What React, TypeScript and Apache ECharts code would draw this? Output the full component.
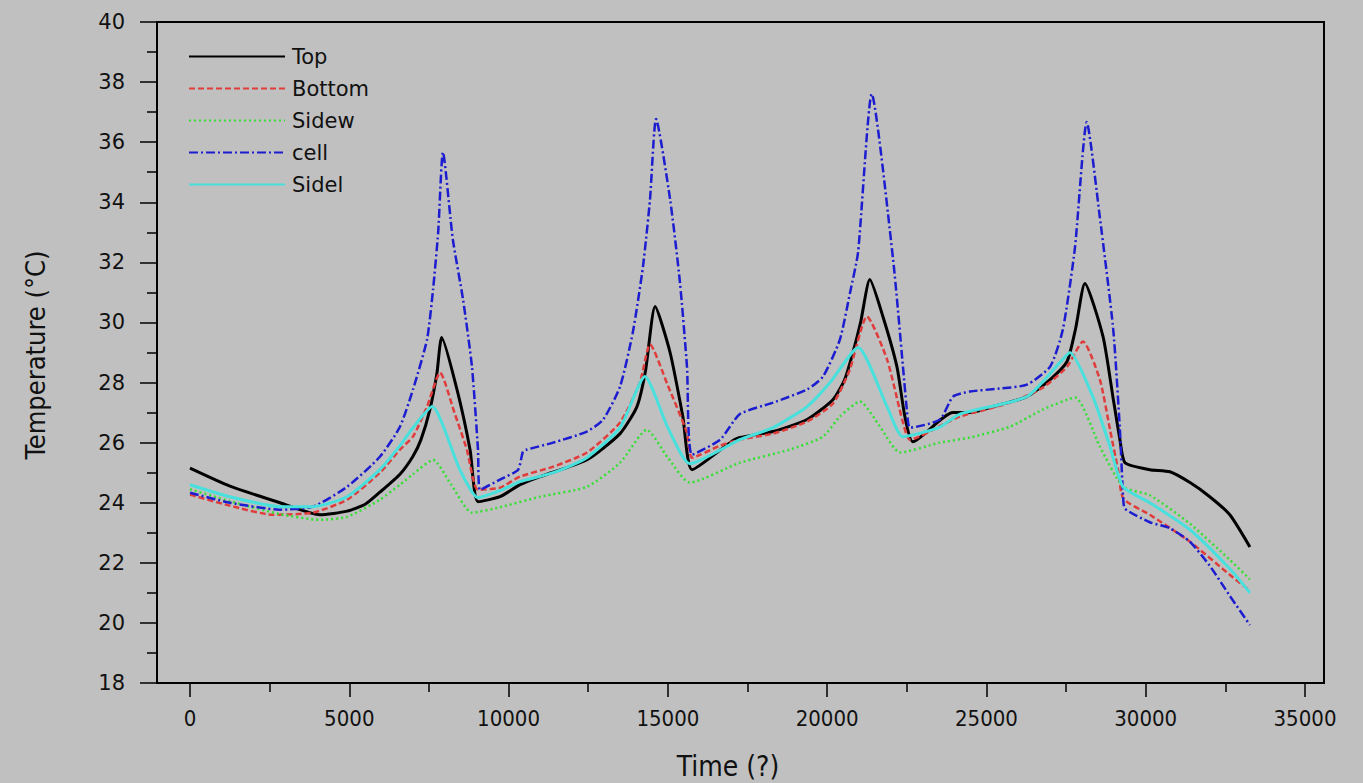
import React, { useEffect, useRef } from "react";
import * as echarts from "echarts";

const seriesNames = ["Top", "Bottom", "Sidew", "cell", "Sidel"];

const topData: [number, number][] = [
  [0, 25.15], [1255, 24.55], [2825, 24.0], [4080, 23.6], [4930, 23.72], [5500, 23.95], [5960, 24.35],
  [6590, 24.95], [7000, 25.55], [7250, 26.1], [7530, 27.1], [7750, 28.3], [7900, 29.5],
  [8380, 27.77], [8790, 25.77], [9040, 24.03], [9730, 24.2], [10360, 24.6], [10990, 24.87],
  [12460, 25.43], [13500, 26.3], [14030, 27.2], [14300, 28.4], [14600, 30.53], [15070, 29.0], [15470, 26.87],
  [15760, 25.1], [16950, 26.0], [17260, 26.17], [18300, 26.37], [19370, 26.77], [20180, 27.43],
  [20550, 28.1], [20810, 29.0], [21050, 30.0], [21340, 31.43], [21750, 30.2], [22190, 28.53], [22440, 26.87], [22690, 26.03],
  [23950, 27.0], [24480, 27.0], [25200, 27.2], [26270, 27.53], [27000, 28.1], [27530, 28.7],
  [27800, 29.8], [28090, 31.3], [28660, 29.53], [28970, 27.53], [29190, 26.1], [29350, 25.33], [30130, 25.1],
  [30760, 25.03], [31390, 24.67], [32010, 24.2], [32640, 23.6], [33270, 22.53],
];

const bottomData: [number, number][] = [
  [0, 24.27], [1255, 23.9], [2600, 23.6], [3860, 23.67], [4930, 24.1], [5960, 25.0],
  [6590, 25.77], [7000, 26.2], [7440, 27.2], [7850, 28.33], [8300, 27.0], [8690, 25.77],
  [9040, 24.43], [9730, 24.5], [10360, 24.87], [11400, 25.2], [12460, 25.67], [13500, 26.67],
  [14120, 28.0], [14440, 29.27], [15000, 27.9], [15600, 26.33], [15760, 25.5], [16640, 25.9],
  [17260, 26.1], [18300, 26.3], [19370, 26.7], [20180, 27.3], [20700, 28.4], [21250, 30.2],
  [21880, 28.77], [22380, 26.67], [22600, 26.1], [23760, 26.67], [24170, 26.87], [25740, 27.33],
  [26770, 27.83], [27530, 28.53], [28030, 29.37], [28560, 28.1], [28880, 26.43], [29130, 25.1],
  [29300, 24.13], [30130, 23.6], [31390, 22.7], [32640, 21.6], [33270, 21.07],
];

const sidewData: [number, number][] = [
  [0, 24.45], [1255, 24.05], [2825, 23.62], [4080, 23.43], [4930, 23.53], [5960, 24.1],
  [6590, 24.6], [7000, 24.95], [7630, 25.43], [8200, 24.6], [8850, 23.67], [9730, 23.85],
  [10990, 24.2], [12460, 24.53], [13500, 25.33], [14340, 26.43], [15000, 25.5], [15690, 24.67],
  [17260, 25.33], [18830, 25.77], [19870, 26.2], [20400, 26.87], [21030, 27.37], [21660, 26.53],
  [22290, 25.67], [23540, 26.0], [24480, 26.17], [25740, 26.53], [26770, 27.1], [27780, 27.5],
  [28560, 25.87], [29290, 24.53], [30130, 24.25], [31390, 23.3], [32640, 22.1], [33270, 21.45],
];

const cellData: [number, number][] = [
  [0, 24.33], [1255, 24.0], [2825, 23.77], [3860, 23.87], [4930, 24.53], [5960, 25.53],
  [6590, 26.53], [7000, 27.77], [7440, 29.43], [7630, 31.1], [7790, 33.0], [7940, 35.67],
  [8250, 32.77], [8570, 30.77], [8850, 28.53], [9040, 25.77], [9100, 24.43], [9730, 24.77],
  [10300, 25.1], [10450, 25.7], [10580, 25.77], [11400, 26.0], [12460, 26.37], [12970, 26.77],
  [13500, 27.87], [13900, 29.67], [14220, 31.87], [14440, 34.1], [14630, 36.77], [15070, 34.1],
  [15380, 31.33], [15600, 28.53], [15760, 25.6], [16640, 26.1], [17260, 26.95], [18300, 27.33],
  [19370, 27.77], [19870, 28.2], [20400, 29.43], [20720, 31.0], [20970, 32.33], [21400, 37.6],
  [22070, 32.1], [22380, 28.53], [22540, 26.67], [22600, 26.5], [23540, 26.77], [23950, 27.53],
  [24480, 27.7], [25420, 27.8], [26270, 27.93], [27000, 28.53], [27400, 29.77], [27780, 32.5],
  [28150, 36.67], [28560, 33.5], [28980, 29.77], [29190, 26.43], [29290, 24.2], [29350, 23.8],
  [30130, 23.35], [30760, 23.15], [31390, 22.7], [32010, 21.9], [32640, 20.9], [33270, 19.93],
];

const sidelData: [number, number][] = [
  [0, 24.6], [1255, 24.2], [2825, 23.87], [3860, 23.87], [4930, 24.2], [5960, 25.1],
  [6590, 25.9], [7000, 26.5], [7600, 27.2], [8470, 25.1], [9040, 24.17], [9730, 24.4],
  [10360, 24.7], [11400, 25.0], [12460, 25.5], [13500, 26.5], [14280, 28.2], [15000, 26.5],
  [15690, 25.3], [17260, 26.1], [18300, 26.5], [19370, 27.2], [20090, 28.0], [20970, 29.17],
  [21880, 27.2], [22380, 26.2], [23500, 26.5], [24170, 26.95], [26270, 27.53], [27310, 28.67],
  [27620, 29.0], [28340, 27.53], [28880, 25.87], [29290, 24.53], [30130, 24.0], [31390, 23.1],
  [32640, 21.8], [33270, 21.0],
];

const xTicks = { min: 0, max: 35000, interval: 5000 };
const yTicks = { min: 18, max: 40, interval: 2 };

const seriesData = [topData, bottomData, sidewData, cellData, sidelData];
const seriesColors = ["#000000", "#e03c3c", "#33e033", "#1c1cd0", "#48e0dc"];
const seriesDash: any[] = ["solid", [6, 3], [2, 3], [9, 3, 2, 3], "solid"];
const seriesWidth = [3, 2.5, 2.5, 2.5, 3];

const narrowFont = "'Liberation Sans Narrow', 'DejaVu Sans Condensed', 'Liberation Sans', Arial, sans-serif";

export default function App() {
  const ref = useRef<HTMLDivElement>(null);
  useEffect(() => {
    document.body.style.margin = "0";
    document.body.style.background = "#c0c0c0";
    const chart = echarts.init(ref.current!, undefined, { renderer: "svg" });
    const tickStyle = { color: "#000", width: 1.5 };
    chart.setOption({
      animation: false,
      backgroundColor: "#c0c0c0",
      grid: [
        { left: 190, right: 58, top: 22, bottom: 100 },
        { left: 157, width: 1, top: 22, bottom: 100 },
      ],
      legend: {
        orient: "vertical",
        left: 183,
        top: 41,
        itemWidth: 96,
        itemHeight: 14,
        itemGap: 11,
        itemStyle: { opacity: 0 },
        textStyle: { fontFamily: "DejaVu Sans", fontSize: 21, color: "#111", padding: [0, 0, 0, 2] },
        data: seriesNames,
      },
      xAxis: [
        {
          type: "value",
          gridIndex: 0,
          min: xTicks.min,
          max: xTicks.max,
          interval: xTicks.interval,
          axisLine: { show: false },
          axisTick: { show: true, length: 14, lineStyle: tickStyle },
          minorTick: { show: true, splitNumber: 2, length: 9, lineStyle: tickStyle },
          splitLine: { show: false },
          axisLabel: {
            margin: 24,
            fontFamily: narrowFont,
            fontSize: 22,
            color: "#111",
            formatter: (v: number) => String(v),
          },
        },
        { type: "value", gridIndex: 1, show: false, min: 0, max: 1 },
      ],
      yAxis: [
        { type: "value", gridIndex: 0, show: false, min: yTicks.min, max: yTicks.max, interval: yTicks.interval },
        {
          type: "value",
          gridIndex: 1,
          min: yTicks.min,
          max: yTicks.max,
          interval: yTicks.interval,
          axisLine: { show: false },
          axisTick: { show: true, length: 17, lineStyle: tickStyle },
          minorTick: { show: true, splitNumber: 2, length: 10, lineStyle: tickStyle },
          splitLine: { show: false },
          axisLabel: {
            margin: 32,
            fontFamily: "DejaVu Sans",
            fontSize: 21,
            color: "#111",
          },
        },
      ],
      graphic: [
        {
          type: "rect",
          shape: { x: 157, y: 22, width: 1167, height: 661 },
          style: { fill: "none", stroke: "#000", lineWidth: 2 },
          silent: true,
        },
        {
          type: "text",
          x: 35,
          y: 355,
          rotation: Math.PI / 2,
          style: {
            text: "Temperature (°C)",
            fontFamily: narrowFont,
            fontSize: 27,
            fill: "#111",
            align: "center",
            verticalAlign: "middle",
          },
        },
        {
          type: "text",
          x: 728,
          y: 766,
          style: {
            text: "Time (?)",
            fontFamily: narrowFont,
            fontSize: 28,
            fill: "#111",
            align: "center",
            verticalAlign: "middle",
          },
        },
      ],
      series: seriesNames.map((name, i) => ({
        name,
        type: "line",
        xAxisIndex: 0,
        yAxisIndex: 0,
        data: seriesData[i],
        showSymbol: false,
        symbol: "none",
        smooth: 0.2,
        lineStyle: { color: seriesColors[i], width: seriesWidth[i], type: seriesDash[i] },
        itemStyle: { color: seriesColors[i] },
        z: 2 + i,
      })),
    });
    return () => chart.dispose();
  }, []);
  return (
    <div
      ref={ref}
      style={{ position: "absolute", left: 0, top: 0, width: 1363, height: 783, background: "#c0c0c0" }}
    />
  );
}
